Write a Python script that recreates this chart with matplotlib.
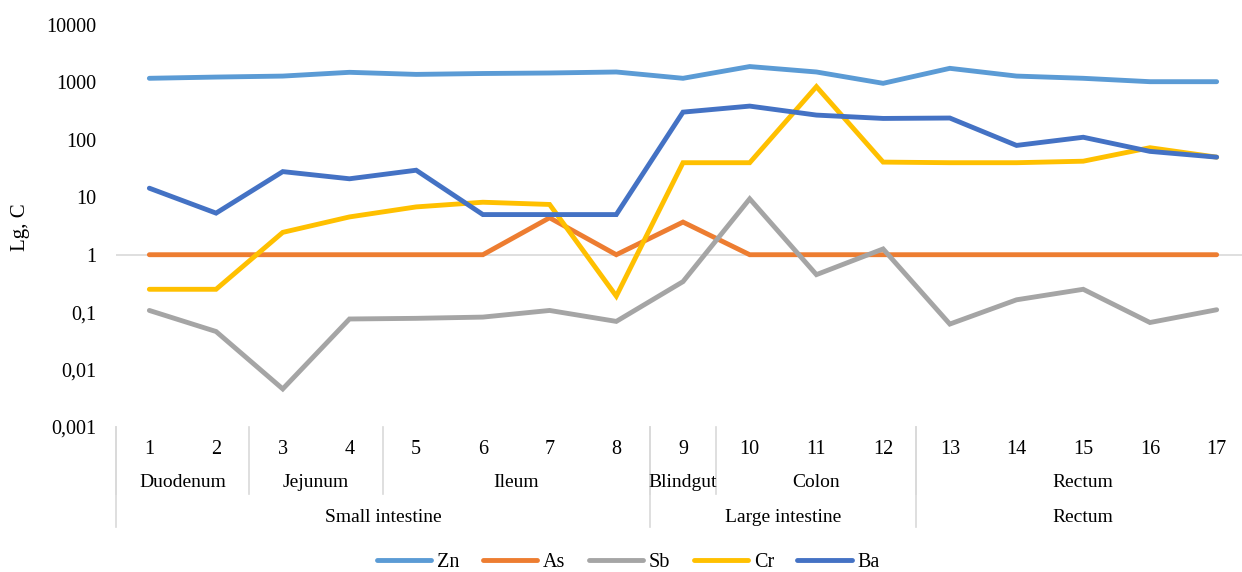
import matplotlib
matplotlib.use('Agg')
import matplotlib.pyplot as plt
import matplotlib.transforms as mtransforms

plt.rc('font', family='Liberation Serif')
plt.rc('font', size=14)

# --- data ---
samples = [str(i) for i in range(1, 18)]
zn = [1180, 1240, 1290, 1500, 1380, 1430, 1460, 1520, 1180, 1890, 1520, 965, 1760, 1290, 1180, 1030, 1030]
as_ = [1, 1, 1, 1, 1, 1, 4.4, 1, 3.7, 1, 1, 1, 1, 1, 1, 1, 1]
sb = [0.107, 0.046, 0.0046, 0.076, 0.078, 0.082, 0.107, 0.069, 0.34, 9.4, 0.45, 1.26, 0.062, 0.164, 0.25, 0.066, 0.11]
cr = [0.25, 0.25, 2.45, 4.55, 6.8, 8.2, 7.5, 0.19, 40, 40, 845, 41, 40, 40, 42.5, 73, 50]
ba = [14.4, 5.3, 28, 21, 29.6, 5, 5, 5, 304, 387, 270, 236, 240, 80, 111, 63, 50]

series_names = ['Zn', 'As', 'Sb', 'Cr', 'Ba']
series_colors = ['#5B9BD5', '#ED7D31', '#A5A5A5', '#FFC000', '#4472C4']

# (label, first index, count)
sections = [('Duodenum', 0, 2), ('Jejunum', 2, 2), ('Ileum', 4, 4),
            ('Blindgut', 8, 1), ('Colon', 9, 3), ('Rectum', 12, 5)]
organs = [('Small intestine', 0, 8), ('Large intestine', 8, 4), ('Rectum', 12, 5)]

yticks = [0.001, 0.01, 0.1, 1, 10, 100, 1000, 10000]
ytick_labels = ['0,001', '0,01', '0,1', '1', '10', '100', '1000', '10000']

fig = plt.figure(figsize=(12.42, 5.72), dpi=100)
ax = fig.add_axes([116 / 1242, 145 / 572, 1134 / 1242, 402 / 572])

x = list(range(len(samples)))
ax.axhline(1, color='#D9D9D9', lw=1.2, zorder=1)
for vals, name, col in zip([zn, as_, sb, cr, ba], series_names, series_colors):
    ax.plot(x, vals, color=col, lw=3.5, label=name, solid_capstyle='round',
            solid_joinstyle='miter', zorder=3)

ax.set_yscale('log')
ax.set_ylim(0.001, 10000)
ax.set_xlim(-0.5, len(samples) - 0.5)
ax.set_yticks(yticks)
ax.set_yticklabels(ytick_labels)
ax.yaxis.set_minor_locator(matplotlib.ticker.NullLocator())
ax.tick_params(axis='y', length=0, pad=14, labelsize=14.5)
ax.set_xticks([])
for s in ax.spines.values():
    s.set_visible(False)

# multi-level category axis
trans = mtransforms.blended_transform_factory(ax.transData, ax.transAxes)
for i, s in enumerate(samples):
    ax.text(i, -0.057, s, transform=trans, ha='center', va='center', fontsize=14.5)
sep_col = '#D9D9D9'
for name, start, n in sections:
    ax.text(start + (n - 1) / 2, -0.139, name, transform=trans, ha='center', va='center', fontsize=14)
    ax.plot([start - 0.5, start - 0.5], [0, -0.167], transform=trans, color=sep_col, lw=1.2, clip_on=False)
for name, start, n in organs:
    ax.text(start + (n - 1) / 2, -0.224, name, transform=trans, ha='center', va='center', fontsize=14)
    ax.plot([start - 0.5, start - 0.5], [0, -0.249], transform=trans, color=sep_col, lw=1.2, clip_on=False)
ax.plot([len(samples) - 0.5] * 2, [0, -0.249], transform=trans, color=sep_col, lw=1.2, clip_on=False)

fig.text(21 / 1242, (572 - 227) / 572, 'Lg, C', rotation=90, ha='center', va='center', fontsize=15)

fig.legend(loc='center', bbox_to_anchor=(0.506, 10 / 572), ncol=5, frameon=False,
           handlelength=2.7, handletextpad=0.3, columnspacing=1.15, fontsize=14.5)

fig.savefig('out.png', dpi=100)
